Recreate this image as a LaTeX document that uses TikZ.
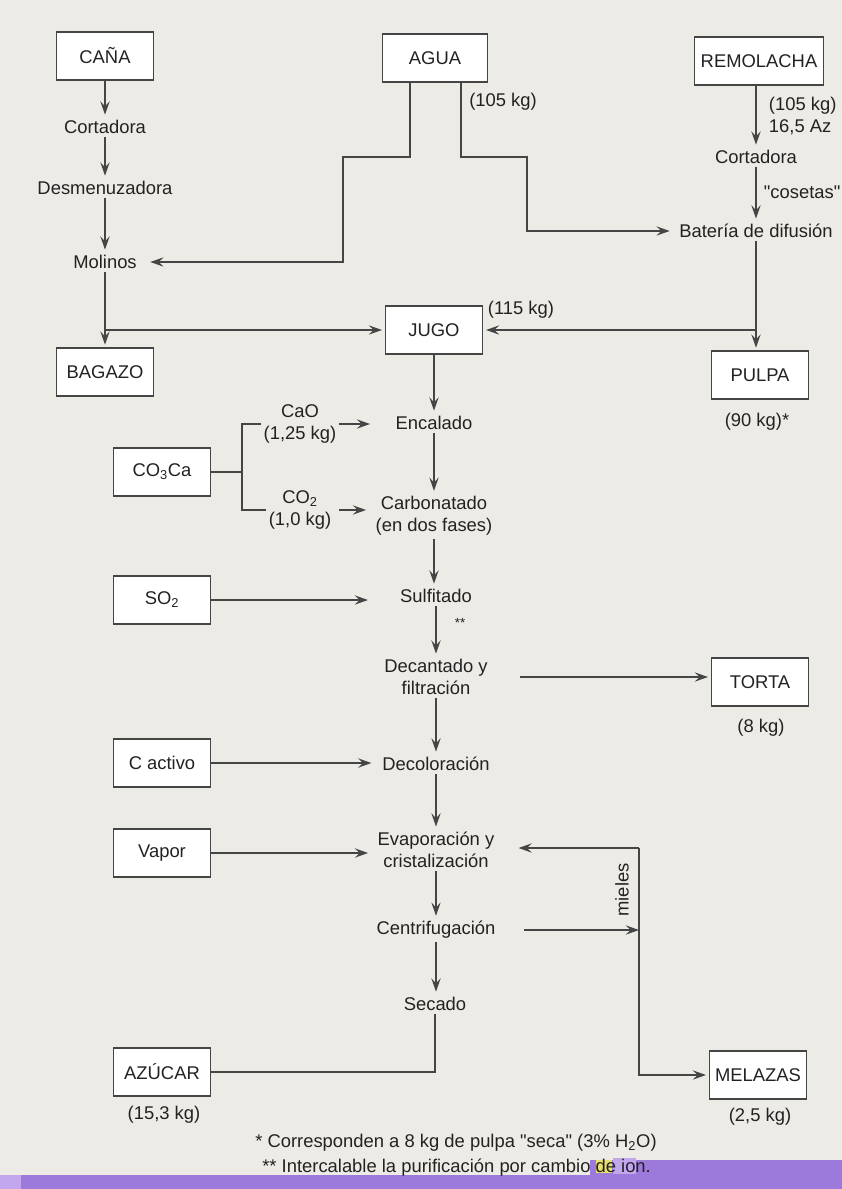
\documentclass[tikz,border=0pt]{standalone}
\usepackage{fontspec}
\setmainfont{Liberation Sans}
\usetikzlibrary{arrows.meta}
\definecolor{paper}{HTML}{EDEBE5}
\definecolor{ink}{HTML}{454545}
\definecolor{txt}{HTML}{222222}
\definecolor{band}{HTML}{9C7ADC}
\definecolor{bandlight}{HTML}{C2A6EE}
\definecolor{glitch}{HTML}{E8E070}
\begin{document}
\begin{tikzpicture}[x=0.75pt,y=-0.75pt,
  every node/.style={text=txt},
  lbl/.style={font=\fontsize{13.8}{16.5}\selectfont, inner sep=2pt, align=center},
  box/.style={lbl, draw=ink, fill=white, line width=1pt, inner sep=0pt,
              minimum width=73pt, minimum height=36pt},
  line/.style={draw=ink, line width=1pt},
  arr/.style={line, -{Stealth[length=10pt,width=7pt,inset=3.8pt]}, shorten >=2pt}]

% page
\fill[paper] (0,0) rectangle (842,1189);
\useasboundingbox (0,0) rectangle (842,1189);

% coloured strip along the foot of the sheet
\fill[band] (0,1175) rectangle (842,1189);
\fill[band] (590,1160) rectangle (842,1175);
\fill[bandlight] (0,1175) rectangle (21,1189);
\fill[glitch] (596,1160) rectangle (612,1173);
\fill[bandlight] (613,1158) rectangle (636,1174);

% ---------- raw materials ----------
\node[box] (cana) at (105,56) {CAÑA};
\node[box, minimum width=79pt] (agua) at (435,58) {AGUA};
\node[box, minimum width=97pt] (remo) at (759,61) {REMOLACHA};

% ---------- cane line ----------
\node[lbl] (cort1) at (105,127) {Cortadora};
\node[lbl] (desm) at (105,188) {Desmenuzadora};
\node[lbl] (mol) at (105,262) {Molinos};
\node[box] (bag) at (105,372) {BAGAZO};

% ---------- beet line ----------
\node[lbl] (cort2) at (756,157) {Cortadora};
\node[lbl] (bat) at (756,231) {Batería de difusión};
\node[box] (pulpa) at (760,375) {PULPA};

% ---------- juice treatment ----------
\node[box] (jugo) at (434,330) {JUGO};
\node[lbl] (enc) at (434,423) {Encalado};
\node[lbl] (carb) at (434,516) {Carbonatado\\(en dos fases)};
\node[lbl] (sulf) at (436,596) {Sulfitado};
\node[lbl] (dec) at (436,677) {Decantado y\\filtración};
\node[lbl] (decol) at (436,764) {Decoloración};
\node[lbl] (evap) at (436,850) {Evaporación y\\cristalización};
\node[lbl] (centr) at (436,930) {Centrifugación};
\node[lbl] (sec) at (435,1004) {Secado};

% ---------- reagents ----------
\node[box] (co3) at (162,472) {CO\textsubscript{3}Ca};
\node[lbl] (cao) at (300,424) {CaO\\(1,25 kg)};
\node[lbl] (co2l) at (300,510) {CO\textsubscript{2}\\(1,0 kg)};
\node[box] (so2) at (162,600) {SO\textsubscript{2}};
\node[box] (cact) at (162,763) {C activo};
\node[box] (vapor) at (162,853) {Vapor};

% ---------- products ----------
\node[box] (torta) at (760,682) {TORTA};
\node[box] (azucar) at (162,1072) {AZÚCAR};
\node[box] (melazas) at (758,1075) {MELAZAS};

% ---------- quantities ----------
\node[lbl] (q1) at (503,102) {(105 kg)};
\node[lbl, anchor=west, align=left] (q2) at (766,116) {(105 kg)\\16,5 Az};
\node[lbl, anchor=west] (q3) at (761,192) {\textquotedbl cosetas\textquotedbl};
\node[lbl] (q4) at (521,310) {(115 kg)};
\node[lbl] (q5) at (757,422) {(90 kg)*};
\node[lbl, font=\fontsize{10}{12}\selectfont] (q6) at (460,623) {**};
\node[lbl] (q7) at (761,728) {(8 kg)};
\node[lbl] (q8) at (164,1115) {(15,3 kg)};
\node[lbl] (q9) at (760,1117) {(2,5 kg)};
\node[lbl, rotate=90] (mieles) at (622,890) {mieles};

% ---------- footnotes ----------
\node[lbl, anchor=west, inner sep=0pt] (fn1) at (255,1143)
  {* Corresponden a 8 kg de pulpa \textquotedbl seca\textquotedbl{} (3\% H\textsubscript{2}O)};
\node[lbl, anchor=west, inner sep=0pt] (fn2) at (262,1168)
  {** Intercalable la purificación por cambio de ion.};

% ---------- bend points ----------
\coordinate (a1) at (410,157);
\coordinate (a2) at (343,157);
\coordinate (b1) at (461,157);
\coordinate (b2) at (527,157);
\coordinate (brk) at (242,472);
\coordinate (m1) at (639,848);

% ---------- cane connectors ----------
\draw[arr] (cana.south) -- (cort1.north);
\draw[arr] (cort1.south) -- (desm.north);
\draw[arr] (desm.south) -- (mol.north);
\draw[arr] (mol.south) -- (bag.north);
\draw[arr] (mol.south |- jugo.west) -- (jugo.west);

% ---------- water ----------
\draw[arr, shorten >=8pt] (agua.south -| a1) -- (a1) -- (a2) |- (mol.east);
\draw[arr, shorten >=5pt] (agua.south -| b1) -- (b1) -- (b2) |- (bat.west);

% ---------- beet connectors ----------
\draw[arr] (remo.south -| cort2) -- (cort2.north);
\draw[arr] (cort2.south) -- (bat.north);
\draw[arr] (bat.south) -- (bat.south |- pulpa.north);
\draw[arr] (bat.south |- jugo.east) -- (jugo.east);

% ---------- main column ----------
\draw[arr] (jugo.south) -- (jugo.south |- enc.north);
\draw[arr] (enc.south) -- (enc.south |- carb.north);
\draw[arr] (carb.south) -- (carb.south |- sulf.north);
\draw[arr] (sulf.south) -- (dec.north);
\draw[arr] (dec.south) -- (decol.north);
\draw[arr] (decol.south) -- (evap.north);
\draw[arr] (evap.south) -- (centr.north);
\draw[arr] (centr.south) -- (centr.south |- sec.north);
\draw[line] (sec.south) |- (azucar.east);

% ---------- reagent feeds ----------
\draw[line] (co3.east) -- (brk);
\draw[line] (cao.west) -| (brk) |- (co2l.west);
\draw[arr, shorten >=17pt] (cao.east) -- (cao.east -| enc.west);
\draw[arr, shorten <=4pt, shorten >=5pt] (co2l.east) -- (co2l.east -| carb.west);
\draw[arr, shorten >=22pt] (so2.east) -- (so2.east -| sulf.west);
\draw[arr, shorten >=6pt] (cact.east) -- (cact.east -| decol.west);
\draw[arr, shorten >=5pt] (vapor.east) -- (vapor.east -| evap.west);

% ---------- side products ----------
\draw[arr, shorten <=22pt] (dec.east) -- (dec.east -| torta.west);
\draw[arr, shorten <=19pt, shorten >=0pt] (centr.east) -- (centr.east -| m1);
\draw[arr, shorten >=16pt] (m1) -- (m1 -| evap.east);
\draw[arr] (m1) |- (melazas.west);

\end{tikzpicture}
\end{document}
